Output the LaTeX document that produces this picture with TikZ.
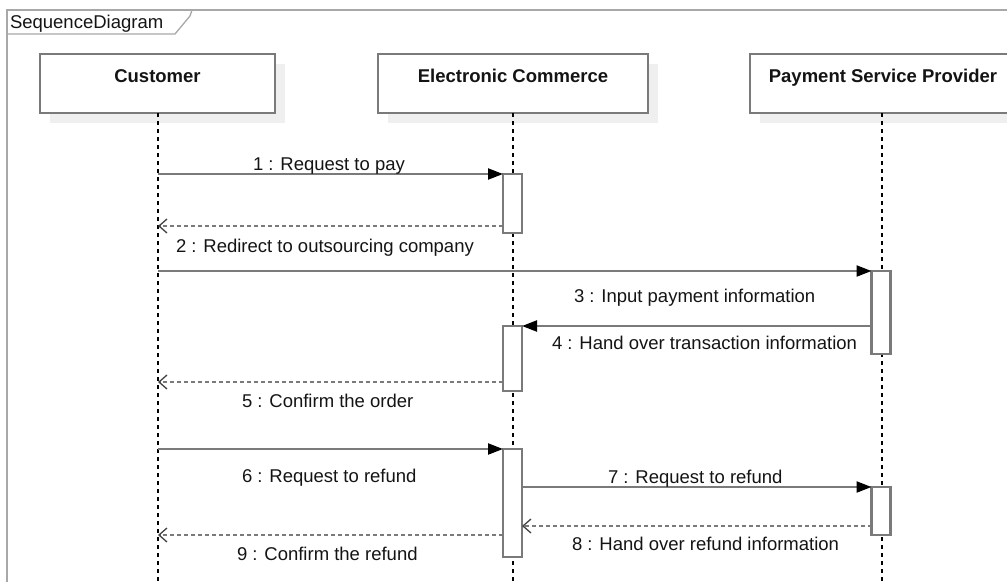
\documentclass[tikz,border=0pt]{standalone}
\usepackage{fontspec}
\setmainfont{Liberation Sans}
\usetikzlibrary{arrows.meta,shadows}
\definecolor{edgegray}{HTML}{7A7A7A}
\definecolor{framegray}{HTML}{A8A8A8}
\definecolor{inkcol}{HTML}{141414}
\definecolor{shadecol}{HTML}{EFEFEF}
\begin{document}
\begin{tikzpicture}[x=1pt,y=-1pt,
  every node/.style={font=\fontsize{18.5}{22}\selectfont, text=inkcol, inner sep=0pt, outer sep=0pt},
  actor/.style={draw=edgegray, line width=2.8pt, fill=white, minimum height=59pt,
    font=\bfseries\fontsize{18.5}{22}\selectfont, text height=12pt, text depth=15pt,
    drop shadow={shadow xshift=10pt, shadow yshift=-10pt, fill=shadecol, opacity=1}},
  act/.style={draw=edgegray, line width=2.4pt, fill=white, minimum width=19pt},
  life/.style={draw=black, line width=1.2pt, dash pattern=on 4pt off 4pt},
  call/.style={draw=edgegray, line width=2.2pt, -{Triangle[length=15pt,width=11pt,color=black]}},
  reply/.style={draw=edgegray, line width=2pt, dash pattern=on 4pt off 3pt,
    -{Straight Barb[length=8pt,width=14pt,line width=1.3pt,color=inkcol!80]}},
  msg/.style={anchor=base west},
  framestyle/.style={draw=framegray, line width=1.3pt}]
\useasboundingbox (0,0) rectangle (1007,582);

% frame with its name tab
\draw[framestyle] (7,582) -- (7,10) -- (1007,10);
\draw[framestyle] (7,34) -- (175,34) -- (190,16) -- (192,10);
\node[msg] (title) at (10,28) {SequenceDiagram};

% participants
\node[actor, minimum width=235pt] (cust) at (157.5,83.5) {Customer};
\node[actor, minimum width=270pt] (shop) at (513,83.5) {Electronic Commerce};
\node[actor, minimum width=266pt] (psp) at (883,83.5) {Payment Service Provider};

% lifelines
\coordinate (custEnd) at (158,582);
\coordinate (shopEnd) at (513,582);
\coordinate (pspEnd) at (882,582);
\draw[life] (cust.south -| custEnd) -- (custEnd);
\draw[life] (shop.south -| shopEnd) -- (shopEnd);
\draw[life] (psp.south -| pspEnd) -- (pspEnd);

% activation bars
\node[act, minimum height=59pt] (a1) at (512.5,203.5) {};
\node[act, minimum height=83pt] (a2) at (881,312.5) {};
\node[act, minimum height=65pt] (a3) at (512.5,358.5) {};
\node[act, minimum height=108pt] (a4) at (512.5,503) {};
\node[act, minimum height=48pt] (a5) at (881,511) {};

% messages
\coordinate (p1) at (158,174);
\coordinate (p2) at (158,226);
\coordinate (p3) at (158,271);
\coordinate (p5) at (158,382);
\coordinate (p6) at (158,449);
\coordinate (p8) at (700,526);
\coordinate (p9) at (158,535);

\draw[call] (p1) -- (a1.north west);
\draw[reply] (a1.west |- p2) -- (p2);
\draw[call] (p3) -- (a2.north west);
\draw[call] (a2.west |- a3.north) -- (a3.north east);
\draw[reply] (a3.west |- p5) -- (p5);
\draw[call] (p6) -- (a4.north west);
\draw[call] (a4.east |- a5.north) -- (a5.north west);
\draw[reply] (a5.west |- p8) -- (a4.east |- p8);
\draw[reply] (a4.west |- p9) -- (p9);

% message labels
\node[msg] (l1) at (253,170) {1 : Request to pay};
\node[msg] (l2) at (176,252) {2 : Redirect to outsourcing company};
\node[msg] (l3) at (574,302) {3 : Input payment information};
\node[msg] (l4) at (552,349) {4 : Hand over transaction information};
\node[msg] (l5) at (242,407) {5 : Confirm the order};
\node[msg] (l6) at (242,482) {6 : Request to refund};
\node[msg] (l7) at (608,483) {7 : Request to refund};
\node[msg] (l8) at (572,550) {8 : Hand over refund information};
\node[msg] (l9) at (237,560) {9 : Confirm the refund};
\end{tikzpicture}
\end{document}
